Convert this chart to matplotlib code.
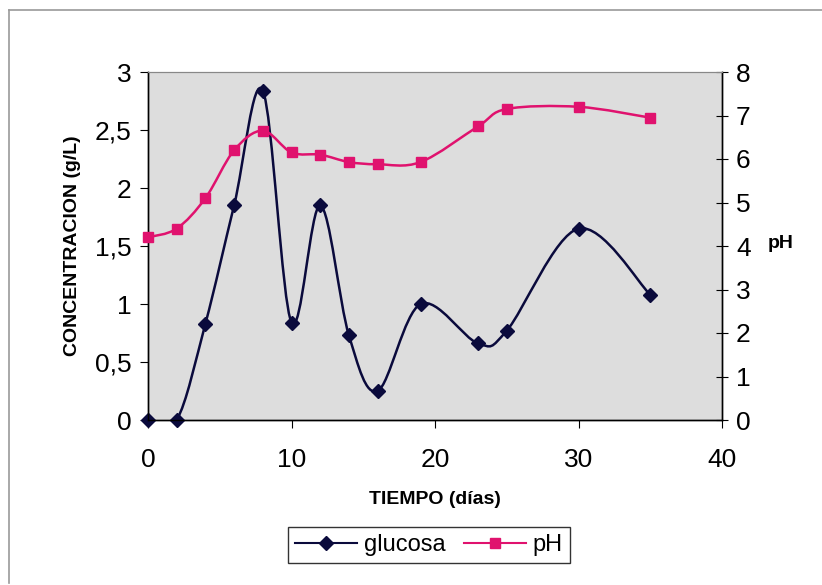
import matplotlib.pyplot as plt
import numpy as np
from matplotlib.path import Path
from matplotlib.patches import PathPatch
from matplotlib.lines import Line2D

plt.rcParams['font.family'] = ['Liberation Sans', 'DejaVu Sans']

# data
tiempo = [0, 2, 4, 6, 8, 10, 12, 14, 16, 19, 23, 25, 30, 35]
glucosa = [0.0, 0.0, 0.83, 1.85, 2.84, 0.84, 1.85, 0.73, 0.25, 1.0, 0.66, 0.77, 1.65, 1.08]
ph = [4.2, 4.4, 5.1, 6.2, 6.65, 6.15, 6.1, 5.93, 5.88, 5.93, 6.75, 7.15, 7.2, 6.95]

GLU_COLOR = "#0a0a3c"
PH_COLOR = "#e0126e"


def smooth_path(xs, ys):
    # Excel-style smoothed line: cubic bezier through every point
    pts = np.column_stack([xs, ys]).astype(float)
    n = len(pts)
    verts = [pts[0]]
    codes = [Path.MOVETO]
    for i in range(n - 1):
        p0 = pts[i - 1] if i > 0 else pts[i]
        p1 = pts[i]
        p2 = pts[i + 1]
        p3 = pts[i + 2] if i + 2 < n else pts[i + 1]
        c1 = p1 + (p2 - p0) / 6.0
        c2 = p2 - (p3 - p1) / 6.0
        verts += [c1, c2, p2]
        codes += [Path.CURVE4] * 3
    return Path(verts, codes)


fig = plt.figure(figsize=(8.22, 5.85), dpi=100)
ax = fig.add_axes([148 / 822, 1 - 420 / 585, (722 - 148) / 822, (420 - 72) / 585])
ax.set_facecolor("#dddddd")
ax2 = ax.twinx()

# frame around the chart (left and top edges show, the rest runs off the scan)
fl, ft, fb = 9 / 822, 1 - 10 / 585, 1 - 583 / 585
fig.add_artist(Line2D([fl, fl], [fb, ft], transform=fig.transFigure, color="#9a9a9a", linewidth=1.2))
fig.add_artist(Line2D([fl, 1.0], [ft, ft], transform=fig.transFigure, color="#9a9a9a", linewidth=1.2))

ax.add_patch(PathPatch(smooth_path(tiempo, glucosa), fill=False, edgecolor=GLU_COLOR, linewidth=1.8, zorder=3))
ax.plot(tiempo, glucosa, linestyle="none", marker="D", markersize=7, color=GLU_COLOR, zorder=4, clip_on=False)

ax2.add_patch(PathPatch(smooth_path(tiempo, ph), fill=False, edgecolor=PH_COLOR, linewidth=1.8, zorder=3))
ax2.plot(tiempo, ph, linestyle="none", marker="s", markersize=7, color=PH_COLOR, zorder=4, clip_on=False)

ax.set_xlim(0, 40)
ax.set_ylim(0, 3)
ax2.set_ylim(0, 8)
ax.set_xticks([0, 10, 20, 30, 40])
ax.set_yticks([0, 0.5, 1, 1.5, 2, 2.5, 3])
ax.set_yticklabels(["0", "0,5", "1", "1,5", "2", "2,5", "3"])
ax2.set_yticks(range(0, 9))

ax.tick_params(axis="x", direction="out", length=6, labelsize=19, pad=14)
ax.tick_params(axis="y", direction="out", length=6, labelsize=19, pad=6)
ax2.tick_params(axis="y", direction="inout", length=8, labelsize=19, pad=6)

for a in (ax, ax2):
    a.spines["top"].set_color("#888888")
    a.spines["top"].set_linewidth(0.8)
    for s in ("left", "right", "bottom"):
        a.spines[s].set_linewidth(1.0)

ax.set_xlabel("TIEMPO (días)", fontsize=14, fontweight="bold", labelpad=14)
ax.set_ylabel("CONCENTRACION (g/L)", fontsize=14, fontweight="bold", labelpad=10)
ax2.set_ylabel("pH", fontsize=14, fontweight="bold", rotation=0, va="center", ha="center")
ax2.yaxis.set_label_coords((781 - 148) / 574, (420 - 243) / 348)

handles = [
    Line2D([], [], color=GLU_COLOR, marker="D", markersize=7, linewidth=1.5),
    Line2D([], [], color=PH_COLOR, marker="s", markersize=7, linewidth=1.5),
]
leg = fig.legend(handles, ["glucosa", "pH"], loc="center", bbox_to_anchor=(429 / 822, 1 - 545 / 585),
                 ncol=2, fontsize=17, frameon=True, fancybox=False, edgecolor="black",
                 handlelength=2.6, columnspacing=0.8, handletextpad=0.3, borderpad=0.3)
leg.get_frame().set_linewidth(1.0)

fig.savefig("out.png", dpi=100)
